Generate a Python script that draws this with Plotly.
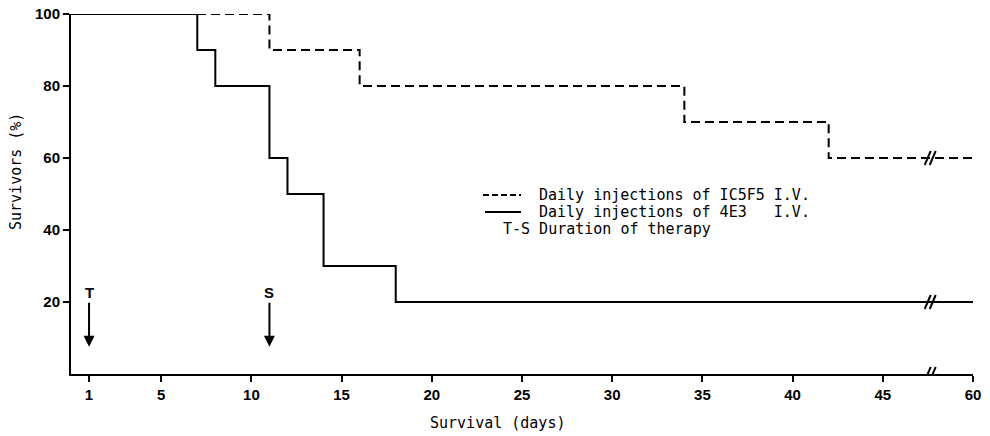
import plotly.graph_objects as go

# Kaplan-Meier style survival steps (day at which the level starts, % survivors)
ic5f5_days = [0, 11, 16, 34, 42, 60]
ic5f5_surv = [100, 90, 80, 70, 60, 60]

e4e3_days = [0, 7, 8, 11, 12, 14, 18, 60]
e4e3_surv = [100, 90, 80, 60, 50, 30, 20, 20]

tick_days = [1, 5, 10, 15, 20, 25, 30, 35, 40, 45, 60]
y_ticks = [20, 40, 60, 80, 100]

therapy_days = [1, 11]
therapy_labels = ["T", "S"]

legend_lines = [
    "Daily injections of IC5F5 I.V.",
    "Daily injections of 4E3   I.V.",
    "T-S Duration of therapy",
]

# broken x axis: days beyond the break are compressed so day 60 sits at 50
BREAK = 47.6
AXIS_END = 50.0
LAST_DAY = 60.0


def to_axis(d):
    if d <= BREAK:
        return d
    return BREAK + (d - BREAK) * (AXIS_END - BREAK) / (LAST_DAY - BREAK)


MONO = "DejaVu Sans Mono"
SANS = "Liberation Sans"

W, H = 990, 436
ML, MR, MT, MB = 71, 17, 14, 62
PW, PH = W - ML - MR, H - MT - MB


def px(xp):
    return (xp - ML) / PW


def py(yp):
    return (H - MB - yp) / PH


fig = go.Figure()
fig.add_trace(go.Scatter(
    x=[to_axis(d) for d in ic5f5_days], y=ic5f5_surv, mode="lines",
    line=dict(shape="hv", color="black", width=2, dash="9px,5px"),
    cliponaxis=False, showlegend=False,
))
fig.add_trace(go.Scatter(
    x=[to_axis(d) for d in e4e3_days], y=e4e3_surv, mode="lines",
    line=dict(shape="hv", color="black", width=2),
    cliponaxis=False, showlegend=False,
))

shapes = []
# "//" break marks on both curves and on the x axis
for yv in [ic5f5_surv[-1], e4e3_surv[-1], 0]:
    for off in (-2, 3):
        shapes.append(dict(
            type="line", xref="x", yref="y", xsizemode="pixel", ysizemode="pixel",
            xanchor=BREAK, yanchor=yv, x0=off - 3, x1=off + 3, y0=-7, y1=7,
            line=dict(color="black", width=2),
        ))

# legend samples
shapes.append(dict(type="line", xref="paper", yref="paper",
                   x0=px(483), x1=px(521), y0=py(195), y1=py(195),
                   line=dict(color="black", width=2, dash="6px,3px")))
shapes.append(dict(type="line", xref="paper", yref="paper",
                   x0=px(485), x1=px(521), y0=py(212), y1=py(212),
                   line=dict(color="black", width=2)))

TEXT_FONT = dict(family=MONO, size=15, color="black")

annotations = []
for i, txt in enumerate(legend_lines):
    xpix = 537 if i < 2 else 501
    ypix = 195 + i * 17
    annotations.append(dict(
        xref="paper", yref="paper", x=px(xpix), y=py(ypix),
        xanchor="left", yanchor="middle", showarrow=False,
        text=txt.replace(" ", "\u00a0"), font=TEXT_FONT,
    ))

for d, lab in zip(therapy_days, therapy_labels):
    annotations.append(dict(
        x=d, y=7.6, xref="x", yref="y", ax=0, ay=-54,
        text=lab, font=dict(family=SANS, size=15, color="black", weight="bold"),
        showarrow=True, arrowhead=2, arrowsize=1.1, arrowwidth=2,
        arrowcolor="black", standoff=0, startstandoff=0,
    ))

# axis titles
annotations.append(dict(
    xref="paper", yref="paper", x=px(497), y=py(423), showarrow=False,
    xanchor="center", yanchor="middle", text="Survival (days)", font=TEXT_FONT,
))
annotations.append(dict(
    xref="paper", yref="paper", x=px(16), y=py(172), showarrow=False,
    xanchor="center", yanchor="middle", textangle=-90, text="Survivors (%)",
    font=TEXT_FONT,
))

fig.update_layout(
    width=W, height=H,
    margin=dict(l=ML, r=MR, t=MT, b=MB, autoexpand=False),
    paper_bgcolor="white", plot_bgcolor="white",
    shapes=shapes, annotations=annotations,
    xaxis=dict(
        range=[0, AXIS_END], showgrid=False, zeroline=False, automargin=False,
        showline=True, linecolor="black", linewidth=2,
        ticks="outside", ticklen=6, tickwidth=2, tickcolor="black",
        tickvals=[to_axis(d) for d in tick_days], ticktext=[str(d) for d in tick_days],
        tickfont=dict(family=SANS, size=15, color="black", weight="bold"),
    ),
    yaxis=dict(
        range=[0, 100], showgrid=False, zeroline=False, automargin=False,
        showline=True, linecolor="black", linewidth=2,
        ticks="outside", ticklen=6, tickwidth=2, tickcolor="black",
        tickvals=y_ticks, ticktext=[str(v) for v in y_ticks],
        tickfont=dict(family=SANS, size=15, color="black", weight="bold"),
    ),
)

fig.write_html("out.html")
